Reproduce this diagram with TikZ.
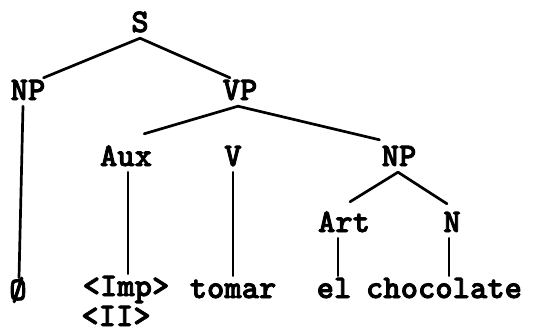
\documentclass[tikz,border=0pt]{standalone}
\usepackage{fontspec}
\newfontfamily\treefont{lmmonolt10-bold}[Extension=.otf, FakeBold=2.5]
\usepackage{tikz}
\usetikzlibrary{calc}
\tikzstyle{branch} = [line width=2.7pt, line cap=round]

\begin{document}
\begin{tikzpicture}[
				x=1pt, y=-1pt,
				cat/.style= {font = {\treefont\fontsize{33}{35}\selectfont}, inner xsep=0pt, inner ysep=6pt, text height=20pt, text depth=0pt, anchor=base},
				leaf/.style= {cat, inner ysep=2pt}
			]
			\useasboundingbox (0,0) rectangle (556,333);
			
			\node (s) [cat] at (140, 32) {S};
			\node (np1) [cat] at (28, 100) {NP};
			\node (vp) [cat] at (240, 100) {VP};
			\node (aux) [cat] at (126, 166) {Aux};
			\node (v) [cat] at (233, 166) {V};
			\node (np2) [cat] at (399, 166) {NP};
			\node (art) [cat] at (344, 232) {Art};
			\node (n) [cat] at (452, 232) {N};
			
			\node (null) [leaf] at (18, 300) {\O};
			\node (imp) [leaf] at (126, 296) {<Imp>};
			\node (ii) [leaf, inner ysep=0pt] at (116, 326) {<II>};
			\node (tomar) [leaf] at (233, 298) {tomar};
			\node (el) [leaf] at (334, 298) {el};
			\node (choc) [leaf] at (444, 298) {chocolate};
			
			\draw [branch] (s.south) -- ([xshift=-2pt, yshift=-4pt]np1.north east);
			\draw [branch] (s.south) -- ([xshift=-10pt, yshift=-4pt]vp.north);
			\draw [branch] ([xshift=-5pt]np1.south) -- ([xshift=1pt]null.north);
			
			\draw [branch] ([xshift=-2pt]vp.south) -- ([xshift=-8pt, yshift=6pt]aux.north east);
			\draw [branch] ([xshift=-2pt]vp.south) -- ([xshift=-2pt]np2.north west);
			\draw [branch] ([xshift=2pt]aux.south) -- ([xshift=2pt]imp.north);
			\draw [branch] (v.south) -- (tomar.north);
			
			\draw [branch] ([xshift=-1pt]np2.south) -- ([xshift=6pt, yshift=4pt]art.north);
			\draw [branch] ([xshift=-1pt]np2.south) -- ([xshift=-5pt, yshift=2pt]n.north);
			\draw [branch] ([xshift=-6pt]art.south) -- ([xshift=4pt]el.north);
			\draw [branch] ([xshift=-3pt]n.south) -- ([xshift=5pt]choc.north);
		\end{tikzpicture}
\end{document}
